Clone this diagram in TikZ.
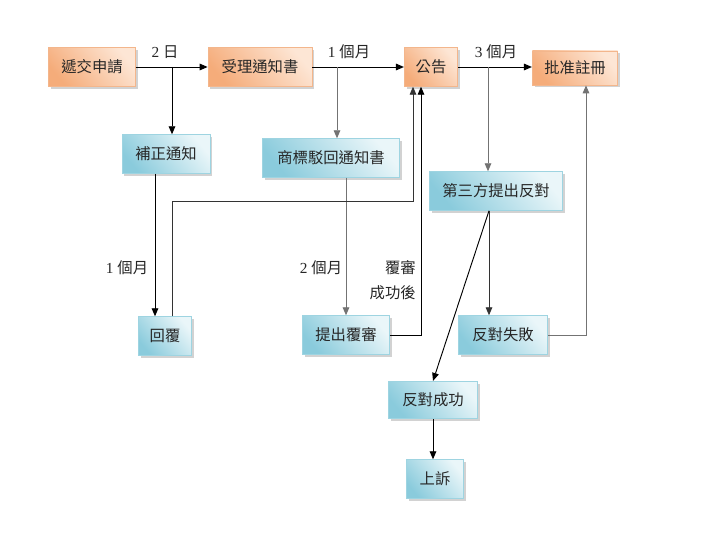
\documentclass[tikz,border=0pt]{standalone}
\usepackage{fontspec}
\setmainfont{Liberation Serif}
\newfontfamily\cjk{Noto Sans CJK TC}
\usetikzlibrary{arrows.meta,shadows}

\definecolor{orgedge}{HTML}{F3B68C}
\definecolor{orgdark}{HTML}{F5AC7A}
\definecolor{orglight}{HTML}{FDE6D5}
\definecolor{blueedge}{HTML}{9ED4E1}
\definecolor{bluedark}{HTML}{8ACBDC}
\definecolor{bluelight}{HTML}{EAF6F9}

\tikzset{
  box/.style={draw=#1edge, line width=0.6pt, minimum height=29pt, inner sep=2pt,
    top color=#1light, bottom color=#1dark, shading angle=-50,
    drop shadow={shadow xshift=1.8pt, shadow yshift=-1.8pt, fill=black!35},
    text=black!85, font=\cjk\fontsize{11.5}{14}\selectfont},
  lbl/.style={inner sep=0pt, text=black!85, font=\fontsize{11.5}{14}\selectfont},
  conn/.style={line width=0.7pt, -{Triangle[length=6pt,width=5pt]}},
  dimline/.style={draw=black!55}
}

\begin{document}
\begin{tikzpicture}[x=0.75pt,y=-0.75pt]
%%%%% START %%%%%
\useasboundingbox (0,0) rectangle (722,535);

% top row
\node[box=org, minimum width=65pt] (djsq) at (92,67) {遞交申請};
\node[box=org, minimum width=78pt] (sltz) at (260,67) {受理通知書};
\node[box=org, minimum width=40pt] (gg) at (431,67) {公告};
\node[box=org, minimum width=64pt, minimum height=25.5pt] (pzzc) at (575,68) {批准註冊};

% notices
\node[box=blue, minimum width=66pt] (bztz) at (166,154) {補正通知};
\node[box=blue, minimum width=103pt] (bhtz) at (331,158) {商標駁回通知書};
\node[box=blue, minimum width=100pt] (dsf) at (496,191) {第三方提出反對};

% responses
\node[box=blue, minimum width=40pt] (hf) at (165,336) {回覆};
\node[box=blue, minimum width=65pt] (tcfs) at (346,335) {提出覆審};
\node[box=blue, minimum width=67pt] (fdsb) at (503,335) {反對失敗};
\node[box=blue, minimum width=67pt, minimum height=28pt] (fdcg) at (433,400) {反對成功};
\node[box=blue, minimum width=43pt] (ss) at (435,479) {上訴};

% junctions and bends
\coordinate (j1) at (172,67);
\coordinate (j2) at (337,67);
\coordinate (j3) at (488,67);
\coordinate (c1) at (155,0);
\coordinate (c3) at (489,0);
\coordinate (r1) at (172,201);
\coordinate (r2) at (413,201);
\coordinate (r3) at (421,0);
\coordinate (r4) at (586,0);

% main line
\draw[conn] (djsq) -- (sltz);
\draw[conn] (sltz) -- (gg);
\draw[conn] (gg.east) -- (gg.east -| pzzc.west);

% branches
\draw[conn] (j1) -- (j1 |- bztz.north);
\draw[conn, dimline] (j2) -- (j2 |- bhtz.north);
\draw[conn, dimline] (j3) -- (j3 |- dsf.north);

\draw[conn] (bztz.south -| c1) -- (hf.north -| c1);
\draw[conn, dimline] (bhtz.south -| tcfs.north) -- (tcfs.north);
\draw[conn, draw=black!80] (dsf.south -| c3) -- (fdsb.north -| c3);
\draw[conn] (dsf.south -| c3) -- (fdcg.north);
\draw[conn] (fdcg.south) -- (fdcg.south |- ss.north);

% returns
\draw[conn, draw=black!80] (hf.north -| r1) -- (r1) -- (r2) -- (r2 |- gg.south);
\draw[conn] (tcfs.east) -| (r3 |- gg.south);
\draw[conn, dimline] (fdsb.east) -| (r4 |- pzzc.south);

% labels
\node[lbl] (t1) at (165,52) {2 {\cjk 日}};
\node[lbl] (t2) at (349,52) {1 {\cjk 個月}};
\node[lbl] (t3) at (496,52) {3 {\cjk 個月}};
\node[lbl] (t4) at (127,268) {1 {\cjk 個月}};
\node[lbl] (t5) at (321,268) {2 {\cjk 個月}};
\node[lbl, anchor=east, align=right, font=\cjk\fontsize{11.5}{18.75}\selectfont] (t6) at (416,280) {覆審\\成功後};
%%%%% END %%%%%
\end{tikzpicture}
\end{document}
